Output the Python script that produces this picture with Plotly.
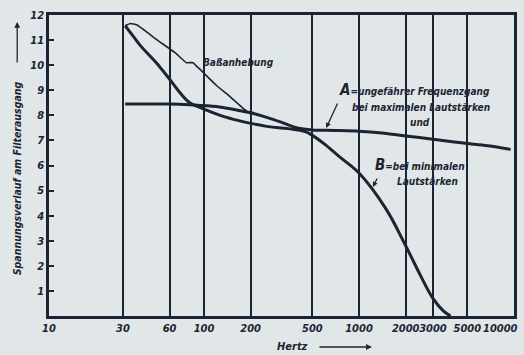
import plotly.graph_objects as go

# ---- data ----
x_tick_vals = [10, 30, 60, 100, 200, 500, 1000, 2000, 3000, 5000, 10000]
x_tick_text = ["10", "30", "60", "100", "200", "500", "1000", "2000", "3000", "5000", "10000"]
y_tick_vals = [1, 2, 3, 4, 5, 6, 7, 8, 9, 10, 11, 12]

freq_a = [31, 45, 60, 81, 120, 160, 200, 260, 330, 400, 500, 700, 1000, 1400, 2000, 3000, 4000, 5300, 7000, 9500]
volt_a = [8.45, 8.45, 8.45, 8.42, 8.35, 8.22, 8.1, 7.9, 7.68, 7.5, 7.42, 7.4, 7.37, 7.3, 7.18, 7.05, 6.95, 6.86, 6.78, 6.64]

freq_b = [31, 35, 39, 50, 60, 70, 81, 100, 130, 170, 200, 260, 350, 450, 500, 600, 740, 1000, 1500, 2000, 2500, 3000, 3500, 3900]
volt_b = [11.57, 11.15, 10.77, 10.05, 9.44, 8.9, 8.5, 8.25, 7.98, 7.78, 7.68, 7.55, 7.47, 7.35, 7.2, 6.85, 6.37, 5.7, 4.25, 2.8, 1.6, 0.7, 0.2, 0.0]

freq_t = [31, 33.5, 37, 50, 65, 77, 85, 89, 94, 120, 150, 177, 201]
volt_t = [11.57, 11.66, 11.6, 11.0, 10.5, 10.1, 10.1, 9.97, 9.84, 9.2, 8.7, 8.3, 8.04]

INK = "#1c2433"
BG = "#e1e6e9"
FONT = "Liberation Sans Narrow, DejaVu Sans Condensed, Arial Narrow, sans-serif"

W, H = 524, 355
L, R, T, B = 49, 7, 15, 39
PW, PH = W - L - R, H - T - B


def px(xp):
    return (xp - L) / PW


def py(yp):
    return (H - B - yp) / PH


fig = go.Figure()
fig.add_trace(go.Scatter(x=freq_t, y=volt_t, mode="lines",
                         line=dict(color=INK, width=1.6, shape="spline", smoothing=0.4),
                         hoverinfo="skip"))
fig.add_trace(go.Scatter(x=freq_a, y=volt_a, mode="lines",
                         line=dict(color=INK, width=3, shape="spline", smoothing=1),
                         hoverinfo="skip"))
fig.add_trace(go.Scatter(x=freq_b, y=volt_b, mode="lines",
                         line=dict(color=INK, width=3, shape="spline", smoothing=1),
                         hoverinfo="skip"))

tickfont = dict(family=FONT, size=11, color=INK, style="italic", weight="bold")
txtfont = dict(family=FONT, size=10, color=INK, style="italic", weight="bold")

annotations = [
    dict(text="Baßanhebung", x=px(202), y=py(62), xanchor="left", yanchor="middle", font=txtfont),
    dict(text="<span style='font-size:15px'>A</span>=ungefährer Frequenzgang", x=px(495), y=py(90),
         xanchor="right", yanchor="middle", font=txtfont),
    dict(text="bei maximalen Lautstärken", x=px(495), y=py(107), xanchor="right", yanchor="middle", font=txtfont),
    dict(text="und", x=px(422), y=py(122), xanchor="center", yanchor="middle", font=txtfont),
    dict(text="<span style='font-size:15px'>B</span>=bei minimalen", x=px(375), y=py(165),
         xanchor="left", yanchor="middle", font=txtfont),
    dict(text="Lautstärken", x=px(430), y=py(181), xanchor="center", yanchor="middle", font=txtfont),
    # leader arrows
    dict(text="", x=px(328), y=py(128), ax=12, ay=-26, showarrow=True, arrowhead=2,
         arrowsize=0.8, arrowwidth=1.3, arrowcolor=INK),
    dict(text="", x=px(375), y=py(187), ax=5, ay=-10, showarrow=True, arrowhead=2,
         arrowsize=0.8, arrowwidth=1.3, arrowcolor=INK),
    # last x tick label at the right edge
    dict(text=x_tick_text[-1], x=px(523), y=py(328), xanchor="right", yanchor="middle", font=tickfont),
    # x-axis title with arrow
    dict(text="Hertz", x=px(294), y=py(347), xanchor="center", yanchor="middle",
         font=dict(family=FONT, size=11, color=INK, style="italic", weight="bold")),
    dict(text="", x=px(374), y=py(347), ax=-54, ay=0, showarrow=True, arrowhead=2,
         arrowsize=0.9, arrowwidth=1.3, arrowcolor=INK),
    # y-axis title with arrow
    dict(text="Spannungsverlauf am Filterausgang", x=px(17), y=py(178), textangle=-90,
         xanchor="center", yanchor="middle",
         font=dict(family=FONT, size=10.5, color=INK, style="italic", weight="bold")),
    dict(text="", x=px(17), y=py(22), ax=0, ay=42, showarrow=True, arrowhead=2,
         arrowsize=0.9, arrowwidth=1.3, arrowcolor=INK),
]
for a in annotations:
    a.setdefault("xref", "paper")
    a.setdefault("yref", "paper")
    a.setdefault("showarrow", False)

fig.update_layout(
    width=W, height=H, autosize=False,
    margin=dict(l=L, r=R, t=T, b=B),
    paper_bgcolor=BG, plot_bgcolor=BG,
    showlegend=False,
    annotations=annotations,
    xaxis=dict(type="log", range=[1, 4], tickvals=x_tick_vals[:-1], ticktext=x_tick_text[:-1],
               tickangle=0,
               showgrid=True, gridcolor=INK, gridwidth=1.5,
               showline=True, linecolor=INK, linewidth=2.5, mirror=True,
               ticks="", tickfont=tickfont, zeroline=False),
    yaxis=dict(range=[0, 12], tickvals=y_tick_vals, showgrid=False,
               showline=True, linecolor=INK, linewidth=2.5, mirror=True,
               ticks="inside", ticklen=5, tickwidth=1.5, tickcolor=INK,
               tickfont=tickfont, zeroline=False),
)

fig.write_html("out.html", config={"displayModeBar": False},
               post_script="document.body.style.margin='0';document.body.style.background='%s';" % BG)
